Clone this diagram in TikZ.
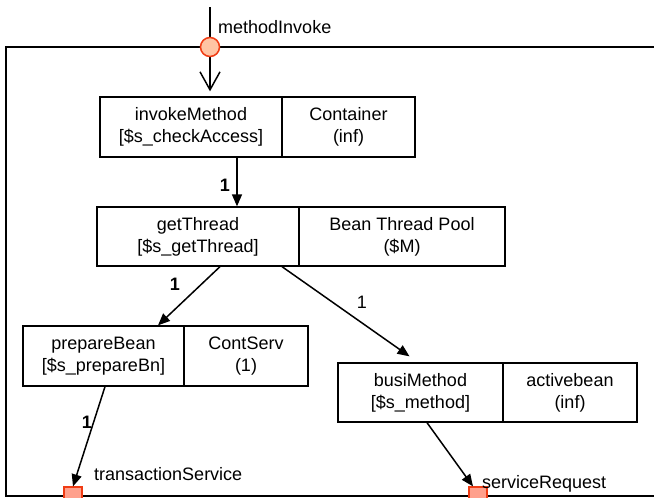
\documentclass[tikz,border=0pt]{standalone}
\usepackage{fontspec}
\setmainfont{Liberation Sans}
\usetikzlibrary{arrows.meta,calc}
\definecolor{portline}{RGB}{240,60,20}
\definecolor{circfill}{RGB}{255,196,164}
\definecolor{sqfill}{RGB}{255,160,140}
\begin{document}
\begin{tikzpicture}[x=1pt,y=-1pt,
  cell/.style={draw,line width=1.3pt,inner sep=0pt,align=center,
    font=\fontsize{18}{22}\selectfont},
  lab/.style={font=\fontsize{18}{22}\selectfont,inner sep=0pt},
  conn/.style={line width=1.5pt,-{Triangle[length=12pt,width=10pt]}},
  openconn/.style={line width=1.5pt,-{Straight Barb[length=18pt,width=20pt,line width=1.5pt]}},
  inport/.style={circle,draw=portline,fill=circfill,line width=1.5pt,minimum size=19pt,inner sep=0pt},
  outport/.style={rectangle,draw=portline,fill=sqfill,line width=1.2pt,minimum size=18pt,inner sep=0pt}]
\path[use as bounding box,clip] (0,0) rectangle (654,498);
\fill[white] (0,0) rectangle (654,498);

% frame
\draw[line width=2pt] (660,47) -- (6,47) -- (6,496) -- (660,496);

% boxes
\node[cell,minimum width=182pt,minimum height=60pt] (b1l) at (191,127) {invokeMethod\\{[}\$s\_checkAccess]};
\node[cell,minimum width=133pt,minimum height=60pt] (b1r) at (348.5,127) {Container\\(inf)};
\node[cell,minimum width=202pt,minimum height=59pt] (b2l) at (198,236.5) {getThread\\{[}\$s\_getThread]};
\node[cell,minimum width=206pt,minimum height=59pt] (b2r) at (402,236.5) {Bean Thread Pool\\(\$M)};
\node[cell,minimum width=161pt,minimum height=60pt] (b3l) at (103.5,356) {prepareBean\\{[}\$s\_prepareBn]};
\node[cell,minimum width=124pt,minimum height=60pt] (b3r) at (246,356) {ContServ\\(1)};
\node[cell,minimum width=165pt,minimum height=59pt] (b4l) at (420.5,392.5) {busiMethod\\{[}\$s\_method]};
\node[cell,minimum width=134pt,minimum height=59pt] (b4r) at (570,392.5) {activebean\\(inf)};

% input port
\coordinate (mtop) at (210,7);
\draw[openconn] (mtop) -- ([yshift=5pt]b1l.north -| mtop);
\node[inport] (pin) at (210,47) {};
\node[lab,anchor=base west] (pinlab) at (218,33) {methodInvoke};

% output ports
\node[outport] (ts) at (73,496) {};
\node[outport] (sr) at (478,496) {};
\node[lab,anchor=base west] (tslab) at (94,480) {transactionService};
\node[lab,anchor=base west] (srlab) at (482,488) {serviceRequest};

% connectors
\draw[conn] ([xshift=46pt]b1l.south) -- ([xshift=46pt]b1l.south |- b2l.north);
\draw[conn] ([xshift=22pt]b2l.south) -- ([xshift=54.5pt]b3l.north);
\draw[conn] ([xshift=84pt]b2l.south) -- ([xshift=-11pt,yshift=6pt]b4l.north);
\draw[conn] ([xshift=1.5pt]b3l.south) -- (ts.north);
\draw[conn] ([xshift=6.5pt]b4l.south) -- ([xshift=-5pt]sr.north);

% connector labels
\node[lab] (l1) at (225,185) {\textbf{1}};
\node[lab] (l2) at (175,284) {\textbf{1}};
\node[lab] (l3) at (362,302) {1};
\node[lab] (l4) at (87,422) {\textbf{1}};
\end{tikzpicture}
\end{document}
